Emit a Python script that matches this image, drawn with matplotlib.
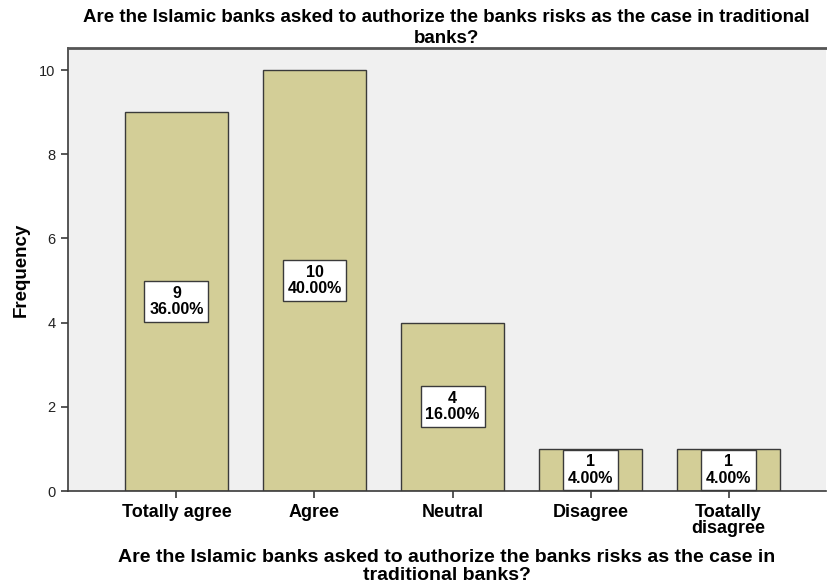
import matplotlib
matplotlib.use("Agg")
import matplotlib.pyplot as plt

categories = ["Totally agree", "Agree", "Neutral", "Disagree", "Toatally\ndisagree"]
frequencies = [9, 10, 4, 1, 1]
percents = [36.00, 40.00, 16.00, 4.00, 4.00]
yticks = [0, 2, 4, 6, 8, 10]
question = "Are the Islamic banks asked to authorize the banks risks as the case in traditional\nbanks?"
xlabel = "Are the Islamic banks asked to authorize the banks risks as the case in\ntraditional banks?"

plt.rcParams["font.family"] = ["Liberation Sans", "DejaVu Sans"]

fig = plt.figure(figsize=(8.27, 5.87), dpi=100)
ax = fig.add_axes([0.0822, 0.1635, 0.9168, 0.7545])
ax.set_facecolor("#f0f0f0")

x = list(range(len(categories)))
ax.bar(x, frequencies, width=0.746, color="#d3ce97", edgecolor="#3a3a3a", linewidth=1.0, zorder=2)

for xi, f, p in zip(x, frequencies, percents):
    ax.text(xi, f / 2, f"{f}\n{p:.2f}%", ha="center", va="center", fontsize=11.5,
            fontweight="bold", linespacing=1.1, zorder=4,
            bbox=dict(boxstyle="square,pad=0.3", facecolor="white", edgecolor="#3a3a3a", linewidth=1.0))

ax.set_xlim(-0.786, 4.707)
ax.set_ylim(0, 10.52)
ax.set_yticks(yticks)
ax.set_yticklabels([str(t) for t in yticks], fontsize=10.5, color="#222222")
ax.set_xticks(x)
ax.set_xticklabels(categories, fontsize=13, fontweight="bold", linespacing=0.95)
ax.tick_params(axis="both", direction="out", length=5, width=1.2, color="#3a3a3a", pad=4)

for side in ["top", "right"]:
    ax.spines[side].set_visible(False)
for side in ["left", "bottom"]:
    ax.spines[side].set_color("#3a3a3a")
    ax.spines[side].set_linewidth(1.2)
ax.plot([0, 1], [1, 1], transform=ax.transAxes, color="#555555", linewidth=2.0, clip_on=False, zorder=5)

ax.set_ylabel("Frequency", fontsize=13.5, fontweight="bold", labelpad=7)
ax.set_xlabel(xlabel, fontsize=14, fontweight="bold", linespacing=1.05, labelpad=9)
fig.text(0.54, 0.984, question, ha="center", va="top", fontsize=13.5, fontweight="bold",
         linespacing=1.3)

fig.savefig("out.png", dpi=100)
